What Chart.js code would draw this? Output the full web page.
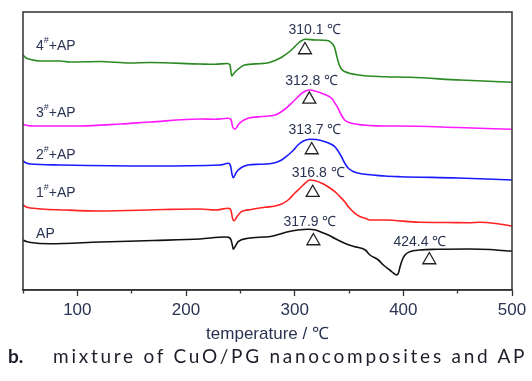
<!DOCTYPE html>
<html>
<head>
<meta charset="utf-8">
<script src="https://cdn.jsdelivr.net/npm/chart.js@4.4.1/dist/chart.umd.min.js"></script>
<style>
  html, body { margin:0; padding:0; background:#fff; }
  #wrap { position:relative; width:532px; height:381px; overflow:hidden; }
  #caption { position:absolute; left:8px; top:344px; font-family: Lato, "Open Sans", sans-serif; font-size:19px; color:#1e1e2a; white-space:nowrap; }
  #caption b { display:inline-block; width:45px; }
  #caption span { letter-spacing:2.75px; }
</style>
</head>
<body>
<div id="wrap">
  <canvas id="c" width="532" height="381"></canvas>
  <div id="caption"><b>b.</b><span>mixture of CuO/PG nanocomposites and AP</span></div>
</div>
<script>
// ---- data (temperature °C, signal in arbitrary offset units) ----
const xTicksMajor = [100, 200, 300, 400, 500];
const xTitle = 'temperature / ℃';

const seriesNames  = ['4#+AP', '3#+AP', '2#+AP', '1#+AP', 'AP'];
const seriesColors = ['#2a8a22', '#ff1aff', '#1a1aff', '#ff2222', '#111111'];

const curve4 = [[50,235],[53,232],[57,230.5],[66,229],[84,229],[93,228],[121,228.5],[148,227],[167,227.5],[213,226],[227,225.7],[238,226.5],[240.5,225],[242,214],[244,216.5],[247,220],[254,225],[268,226.3],[276,227.3],[282,229.5],[288,232.7],[297,240],[302,245.5],[305,248.3],[309.5,250.7],[319,250],[330,249.5],[333,248],[336.5,243.3],[338.5,235],[340.5,226.7],[343,221],[346.5,218.3],[359,215],[383,213.3],[406,212.7],[452,210],[500,207.7]];
const curve3 = [[50,165.7],[54,164.5],[60,164],[102,164],[140,166],[167,168],[213,171],[227,170.7],[239,171.7],[241.5,170],[243,163],[245,160.7],[248,165],[251,168.3],[257,171.7],[270,173.5],[282,175],[290,180],[297,186.7],[302,192],[306.5,196.7],[310,199],[314,200],[320,198.5],[325,196.7],[330,194.5],[334,191.7],[337,187],[340,181.7],[343,175],[346,170],[350,167.5],[355.5,166],[383,164],[397,164],[450,162.5],[500,160.7]];
const curve2 = [[50,129],[53,127],[57,126],[84,125],[167,124],[231,125],[239,126.7],[241,124],[242.5,115],[243.5,112.3],[246,117],[248,120],[257,125],[268,125.7],[282,127.3],[288,130],[294,135],[299,140],[303,145],[308,149],[314,150.7],[320,150.5],[328,148.3],[334,145.5],[337,143.3],[340,139],[343,133.3],[346,127],[349.4,121.7],[354,118.5],[359,116.7],[383,114],[397,113.3],[450,112],[500,110]];
const curve1 = [[50,85],[53,83],[57,82],[90,80],[121,79],[180,80.5],[213,81],[227,80],[239,81.7],[241.5,79],[243,71],[244.2,69.3],[247,73.5],[251,78.3],[260,80.5],[273,82.7],[282,84],[288,86],[294,90],[300,96.7],[305,102],[309.5,106.7],[314,110],[318,109.5],[325,106.7],[331,103],[337,98.3],[342,93],[346,88.3],[350,82.5],[355.5,76.7],[360,73.5],[365,71.7],[369,70],[383,70],[415,67.7],[440,67.5],[461,67.3],[470,67.7],[485,66.5],[498,64.3],[500,64]];
const curveAP = [[50,50],[53,48.5],[57,47.5],[75,46.3],[121,48],[170,49.5],[213,51],[236,53],[239,52.7],[241.5,50],[243,43],[243.5,40.7],[246,45],[248,48.3],[257,51.7],[276,53.3],[285,55.5],[294,58.3],[303,60],[312.5,60.7],[319,60],[325,57.5],[331,55],[337,51.5],[343,48.3],[349,45.5],[355.5,43.3],[365,40],[369.3,35],[377,30],[381.6,25],[388,19.5],[392,16],[394,15],[395.5,17],[397,23.3],[399,30],[401.5,35],[406,38.3],[415,40],[431,40.7],[461,41],[480,40.5],[498,39],[500,39]];
const curves = [curve4, curve3, curve2, curve1, curveAP];

// series name label anchors (temperature, signal)
const nameAnchorX = [62, 62, 62, 62, 62];
const nameAnchorY = [244, 177, 135, 97, 56];

// peak markers (triangles) and their labels
const peakTexts   = ['310.1 ℃', '312.8 ℃', '313.7 ℃', '316.8 ℃', '317.9 ℃', '424.4 ℃'];
const peakMarkX   = [309.5, 313.5, 315.7, 316.6, 317.2, 423.9];
const peakMarkY   = [240, 190.6, 140, 97.3, 49, 30];
const peakLabelX  = [318.7, 315.7, 318.7, 321.7, 314.1, 415.3];
const peakLabelY  = [260, 209, 160, 117.3, 68.3, 48.3];

const textColor = '#2a3352';

const datasets = curves.map((c, i) => ({
  label: seriesNames[i],
  data: c.map(p => ({x: p[0], y: p[1]})),
  borderColor: seriesColors[i],
  borderWidth: 1.6,
  pointRadius: 0,
  fill: false,
  cubicInterpolationMode: 'monotone'
}));
datasets.push({
  type: 'scatter',
  label: 'peaks',
  data: peakMarkX.map((x, i) => ({x, y: peakMarkY[i]})),
  pointStyle: 'triangle',
  pointRadius: 7.5,
  borderColor: '#222',
  borderWidth: 1.3,
  backgroundColor: 'rgba(0,0,0,0)'
});

const textPlugin = {
  id: 'texts',
  afterDatasetsDraw(chart) {
    const {ctx, scales: {x, y}, chartArea: a} = chart;
    ctx.save();
    ctx.fillStyle = textColor;
    // peak labels
    ctx.font = '14px "Liberation Sans", Arial, sans-serif';
    ctx.textAlign = 'center';
    ctx.textBaseline = 'middle';
    peakTexts.forEach((t, i) => {
      ctx.fillText(t, x.getPixelForValue(peakLabelX[i]), y.getPixelForValue(peakLabelY[i]));
    });
    // series names with superscript '#'
    ctx.textAlign = 'left';
    seriesNames.forEach((n, i) => {
      let px = x.getPixelForValue(nameAnchorX[i]);
      const py = y.getPixelForValue(nameAnchorY[i]);
      const k = n.indexOf('#');
      if (k < 0) {
        ctx.font = '14px "Liberation Sans", Arial, sans-serif';
        ctx.fillText(n, px, py);
        return;
      }
      const a1 = n.slice(0, k), a2 = n.slice(k + 1);
      ctx.font = '14px "Liberation Sans", Arial, sans-serif';
      ctx.fillText(a1, px, py);
      px += ctx.measureText(a1).width;
      ctx.font = '9px "Liberation Sans", Arial, sans-serif';
      ctx.fillText('#', px, py - 5);
      px += ctx.measureText('#').width;
      ctx.font = '14px "Liberation Sans", Arial, sans-serif';
      ctx.fillText(a2, px, py);
    });
    // frame
    ctx.strokeStyle = '#333';
    ctx.lineWidth = 1.5;
    ctx.strokeRect(a.left, a.top, a.right - a.left, a.bottom - a.top);
    ctx.restore();
  }
};

new Chart(document.getElementById('c'), {
  type: 'line',
  data: { datasets },
  options: {
    responsive: false,
    animation: false,
    devicePixelRatio: 1,
    layout: { padding: { left: 23, right: 20, top: 12, bottom: 36 } },
    plugins: { legend: { display: false }, tooltip: { enabled: false } },
    scales: {
      x: {
        type: 'linear',
        min: 50, max: 500,
        afterFit(s) { s.height = 55; },
        border: { display: true, color: '#333', width: 1.5 },
        grid: {
          display: true, drawOnChartArea: false, drawTicks: true,
          tickLength: 6, tickColor: '#333', tickWidth: 1.3,
          tickBorderDash: ctx => (ctx.tick && xTicksMajor.includes(ctx.tick.value)) ? [] : [3, 20]
        },
        ticks: {
          stepSize: 50, autoSkip: false, maxRotation: 0, padding: 4,
          color: textColor,
          font: { family: '"Liberation Sans", Arial, sans-serif', size: 17 },
          callback: v => xTicksMajor.includes(v) ? String(v) : ''
        },
        title: {
          display: true, text: xTitle, color: textColor,
          font: { family: '"Liberation Sans", Arial, sans-serif', size: 17 },
          padding: { top: 0, bottom: 0 }
        }
      },
      y: {
        type: 'linear', min: 0, max: 278, display: false
      }
    }
  },
  plugins: [textPlugin]
});
</script>
</body>
</html>
